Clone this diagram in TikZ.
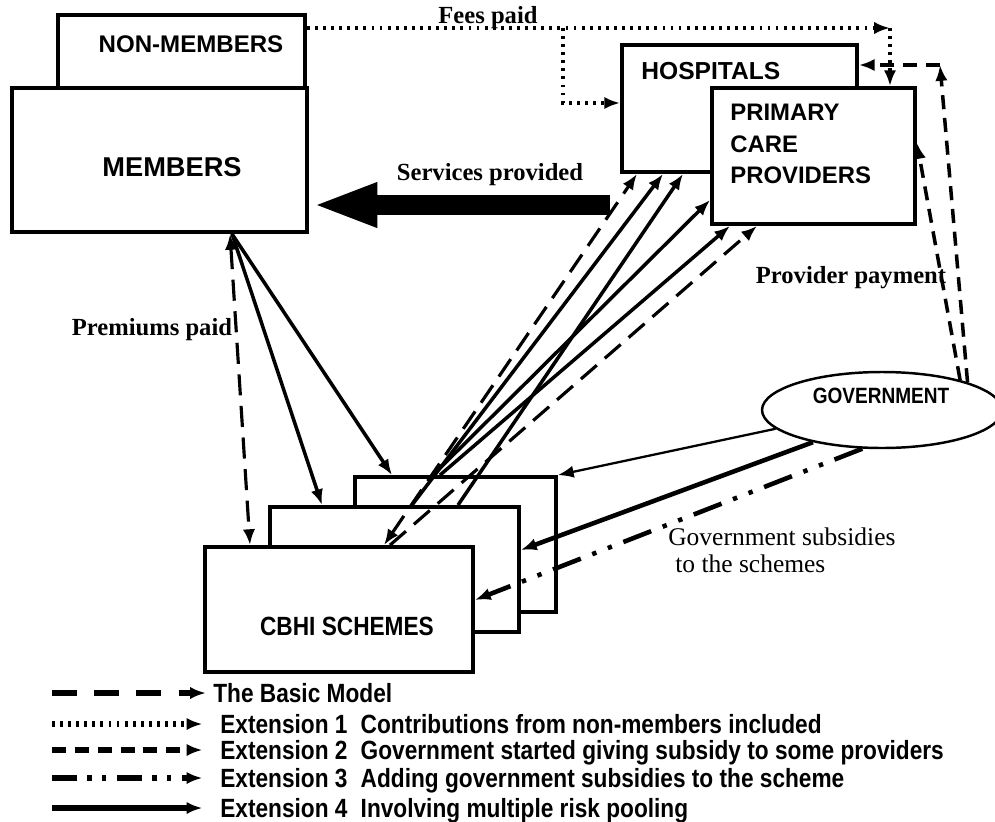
\documentclass[tikz,border=0pt]{standalone}
\usepackage{fontspec}
\setmainfont{Liberation Serif}
\setsansfont{Liberation Sans}
\newfontfamily\narrowsf[FakeStretch=0.86]{Liberation Sans}
\usetikzlibrary{arrows.meta,positioning,calc,shapes.geometric}
\tikzset{
  entity/.style={rectangle, draw=black, fill=white, line width=2.2pt,
                 inner sep=0pt},
  boxtext/.style={font=\fontsize{13.7}{18}\selectfont\sffamily\bfseries,
                  inner sep=0pt, align=left},
  flowlabel/.style={font=\fontsize{14}{16}\selectfont\bfseries, inner sep=0pt},
  sublabel/.style={font=\fontsize{14.5}{15.5}\selectfont, inner sep=0pt,
                   align=left},
  legtext/.style={font=\fontsize{15}{16}\selectfont\narrowsf\bfseries,
                  inner sep=0pt, text height=10.5pt, text depth=0pt},
  basic/.style={->, line width=1.8pt, dash pattern=on 12pt off 6pt},
  ext1/.style={->, line width=2pt, dash pattern=on 1.6pt off 3pt},
  ext2/.style={->, line width=2pt, dash pattern=on 8pt off 5pt},
  ext3/.style={->, line width=2.6pt,
               dash pattern=on 17pt off 7pt on 2.5pt off 7pt on 2.5pt off 7pt},
  ext4/.style={->, line width=2pt},
  thinlink/.style={->, line width=1.3pt},
  service/.style={-{Triangle[length=37pt,width=23pt]}, line width=11pt},
  legline/.style={line width=3pt, shorten >=4pt}
}

\begin{document}
\begin{tikzpicture}[x=0.02cm, y=-0.02cm, >={Latex[length=9pt,width=7pt]}]
\useasboundingbox (0,0) rectangle (995,822);

% boxes
\node[entity, minimum width=4.94cm, minimum height=1.46cm] (nonmem) at (181.5,51.5) {};
\node[entity, minimum width=5.9cm, minimum height=2.88cm] (members) at (159.5,160) {};
\node[entity, minimum width=4.7cm, minimum height=2.54cm] (hosp) at (739.5,108.5) {};
\node[entity, minimum width=4.06cm, minimum height=2.72cm] (pcp) at (813.5,156) {};
\node[entity, minimum width=4.02cm, minimum height=2.7cm] (cbhiC) at (455.5,544.5) {};
\node[entity, minimum width=4.98cm, minimum height=2.5cm] (cbhiB) at (394.5,569.5) {};
\node[entity, minimum width=5.36cm, minimum height=2.5cm] (cbhiA) at (339,609.5) {};
\node[ellipse, draw=black, fill=white, line width=1.4pt, inner sep=0pt,
      minimum width=4.8cm, minimum height=1.52cm] (gov) at (882,410) {};

% box texts
\node[boxtext] (nonmemtxt) at (191,44) {NON-MEMBERS};
\node[boxtext, font=\fontsize{15.5}{18}\selectfont\sffamily\bfseries] (membtxt) at (172,167) {MEMBERS};
\node[boxtext, font=\fontsize{14}{18}\selectfont\sffamily\bfseries, anchor=north west] (hosptxt) at (641,62) {HOSPITALS};
\node[boxtext, font=\fontsize{13.6}{17.9}\selectfont\sffamily\bfseries, anchor=north west] (pcptxt) at (730,104) {PRIMARY\\CARE\\PROVIDERS};
\node[boxtext, font=\fontsize{15}{18}\selectfont\narrowsf\bfseries] (cbhitxt) at (347,626) {CBHI SCHEMES};
\node[boxtext, font=\fontsize{12.6}{14}\selectfont\narrowsf\bfseries] (govtxt) at (881,396) {GOVERNMENT};

% flow labels
\node[flowlabel] (feeslbl) at (488,18) {Fees paid};
\node[flowlabel] (svclbl) at (490,175) {Services provided};
\node[flowlabel] (premlbl) at (152,330) {Premiums paid};
\node[flowlabel] (paylbl) at (851,278) {Provider payment};
\node[sublabel, anchor=north west] (sublbl) at (668,527) {Government subsidies\\\hspace*{4pt}to the schemes};

% services back to members
\coordinate (svcfrom) at (610,205);
\draw[service, shorten >=2pt] (svcfrom) -- (members.east |- svcfrom);

% basic model
\draw[basic, <->] (230,0 |- members.south) -- (250,0 |- cbhiA.north);
\draw[basic, <->] (384,0 |- cbhiA.north) -- (637,0 |- hosp.south);
\draw[basic] (390,0 |- cbhiA.north) -- (757,0 |- pcp.south);

% extension 1: fees from non-members
\coordinate (fsplit) at (563,28);
\coordinate (fturn) at (890,28);
\coordinate (fdrop) at (563,103);
\draw[ext1] (nonmem.east |- fsplit) -- (fturn);
\draw[ext1] (fturn) -- (fturn |- pcp.north);
\draw[ext1] (fsplit) -- (fdrop) -- (hosp.west |- fdrop);

% extension 2: government to providers
\coordinate (gturn) at (940,65);
\draw[ext2] (gov.18) -- (gturn);
\draw[ext2] (gturn) -- (hosp.east |- gturn);
\draw[ext2] (gov.21) -- (pcp.east |- 0,143);

% extension 3: subsidies to the schemes
\draw[ext3] (gov.243) -- (cbhiA.east |- 0,600);

% extension 4: multiple risk pooling
\draw[ext4] (232,0 |- members.south) -- (322,0 |- cbhiB.north);
\draw[ext4] (232,0 |- members.south) -- (392,0 |- cbhiC.north);
\draw[ext4] (412,0 |- cbhiB.north) -- (663,0 |- hosp.south);
\draw[ext4] (458,0 |- cbhiB.north) -- (683,0 |- hosp.south);
\draw[ext4] (433,0 |- cbhiC.north) -- (pcp.west |- 0,200);
\draw[ext4] (440,0 |- cbhiC.north) -- (730,0 |- pcp.south);
\draw[ext4, line width=2.6pt] (gov.205) -- (cbhiB.east |- 0,550);
\draw[thinlink] (gov.190) -- (cbhiC.north east);

% legend
\node[legtext, anchor=west] (legA) at (213,693) {The Basic Model};
\node[legtext, anchor=west] (legB) at (220,724) {Extension 1\enspace Contributions from non-members included};
\node[legtext, anchor=west] (legC) at (220,750) {Extension 2\enspace Government started giving subsidy to some providers};
\node[legtext, anchor=west] (legD) at (220,778) {Extension 3\enspace Adding government subsidies to the scheme};
\node[legtext, anchor=west] (legE) at (220,808) {Extension 4\enspace Involving multiple risk pooling};
\coordinate (legAs) at (52,693);
\coordinate (legBs) at (52,724);
\coordinate (legCs) at (52,750);
\coordinate (legDs) at (52,778);
\coordinate (legEs) at (52,808);
\draw[basic, legline, dash pattern=on 14pt off 10pt] (legAs) -- (legA.west);
\draw[ext1, legline, shorten >=10pt] (legBs) -- (legB.west);
\draw[ext2, legline, shorten >=10pt] (legCs) -- (legC.west);
\draw[ext3, legline, shorten >=10pt, dash pattern=on 14pt off 6pt on 2.5pt off 6pt on 2.5pt off 6pt] (legDs) -- (legD.west);
\draw[ext4, legline, shorten >=10pt] (legEs) -- (legE.west);
\end{tikzpicture}
\end{document}
